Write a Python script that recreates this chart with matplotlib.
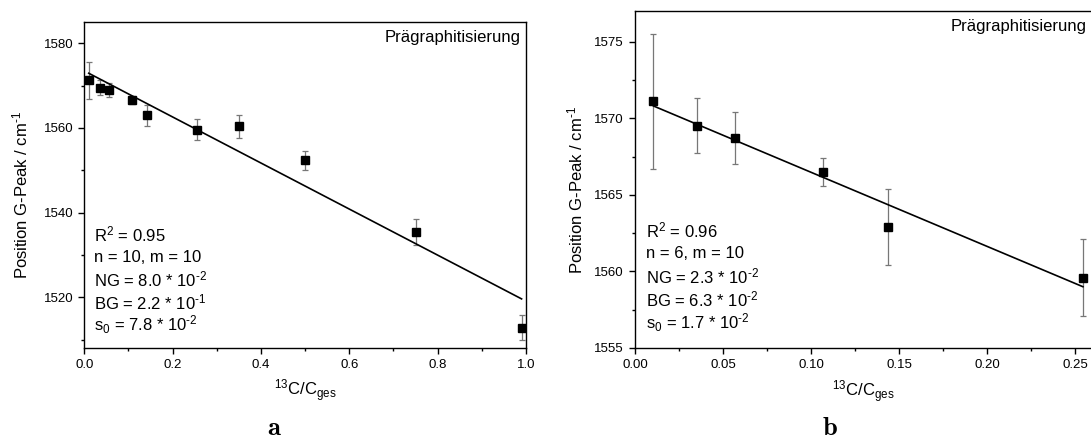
"""
G-peak position vs. 13C fraction (Prägraphitisierung), two panels a/b.
"""

import matplotlib
matplotlib.use("Agg")
import matplotlib.pyplot as plt
from matplotlib.ticker import MultipleLocator

plt.rcParams["font.family"] = ["Liberation Sans", "DejaVu Sans"]
plt.rcParams["mathtext.fontset"] = "custom"
plt.rcParams["mathtext.rm"] = "Liberation Sans"
plt.rcParams["mathtext.it"] = "Liberation Sans"
plt.rcParams["mathtext.bf"] = "Liberation Sans:bold"

# panel a: all samples
x_a = [0.01, 0.035, 0.057, 0.107, 0.143, 0.255, 0.35, 0.50, 0.75, 0.99]
y_a = [1571.2, 1569.5, 1568.9, 1566.6, 1563.0, 1559.6, 1560.4, 1552.3, 1535.4, 1512.8]
err_a = [4.4, 1.8, 1.7, 0.9, 2.5, 2.5, 2.7, 2.3, 3.0, 3.0]
fit_x_a = [0.01, 0.99]
fit_y_a = [1572.9, 1519.6]
stats_a = ["R$^2$ = 0.95", "n = 10, m = 10", r"NG = 8.0 * 10$^{\text{-}2}$",
           r"BG = 2.2 * 10$^{\text{-}1}$", r"s$_0$ = 7.8 * 10$^{\text{-}2}$"]

# panel b: low 13C range only
x_b = [0.0105, 0.035, 0.057, 0.107, 0.1435, 0.2545]
y_b = [1571.1, 1569.5, 1568.7, 1566.5, 1562.9, 1559.6]
err_b = [4.4, 1.8, 1.7, 0.9, 2.5, 2.5]
fit_x_b = [0.0105, 0.2545]
fit_y_b = [1570.8, 1559.0]
stats_b = ["R$^2$ = 0.96", "n = 6, m = 10", r"NG = 2.3 * 10$^{\text{-}2}$",
           r"BG = 6.3 * 10$^{\text{-}2}$", r"s$_0$ = 1.7 * 10$^{\text{-}2}$"]

TITLE = "Prägraphitisierung"
XLABEL = "$^{13}$C/C$_{ges}$"
YLABEL = r"Position G-Peak / cm$^{\text{-}1}$"

W, H = 1091, 441
fig = plt.figure(figsize=(W / 100, H / 100), dpi=100)


def px_axes(left, top, right, bottom):
    return fig.add_axes([left / W, 1 - bottom / H, (right - left) / W, (bottom - top) / H])


def draw_panel(ax, x, y, err, fx, fy, stats, xlim, ylim, xmaj, xmin, ymaj, ymin, fmt,
               stats_x, stats_y0, ylabel_x):
    ax.errorbar(x, y, yerr=err, fmt="none", ecolor="#777777", elinewidth=0.9,
                capsize=2.5, capthick=0.9, zorder=2)
    ax.plot(fx, fy, color="black", linewidth=1.2, zorder=3)
    ax.plot(x, y, "s", color="black", markersize=6, zorder=4)
    ax.set_xlim(*xlim)
    ax.set_ylim(*ylim)
    ax.xaxis.set_major_locator(MultipleLocator(xmaj))
    ax.xaxis.set_minor_locator(MultipleLocator(xmin))
    ax.yaxis.set_major_locator(MultipleLocator(ymaj))
    ax.yaxis.set_minor_locator(MultipleLocator(ymin))
    ax.xaxis.set_major_formatter(plt.FormatStrFormatter(fmt))
    ax.tick_params(which="both", direction="out", top=False, right=False,
                   labelsize=9.5, width=1.0)
    ax.tick_params(which="major", length=4.5)
    ax.tick_params(which="minor", length=2.5)
    for s in ax.spines.values():
        s.set_linewidth(1.0)
    ax.text(0.987, 0.975, TITLE, transform=ax.transAxes, ha="right", va="top", fontsize=12)
    for i, line in enumerate(stats):
        ax.text(stats_x, stats_y0 - i * 0.069, line, transform=ax.transAxes,
                ha="left", va="center", fontsize=12)
    ax.set_xlabel(XLABEL, fontsize=12)
    ax.set_ylabel(YLABEL, fontsize=12)
    ax.xaxis.set_label_coords(0.5, -0.09)
    ax.yaxis.set_label_coords(ylabel_x, 0.47)


ax_a = px_axes(84.3, 22, 526, 348)
draw_panel(ax_a, x_a, y_a, err_a, fit_x_a, fit_y_a, stats_a,
           (0, 1.0), (1508, 1585), 0.2, 0.1, 20, 10, "%.1f",
           0.022, 0.347, -0.122)

ax_b = px_axes(635, 11, 1092.6, 348)
draw_panel(ax_b, x_b, y_b, err_b, fit_x_b, fit_y_b, stats_b,
           (0, 0.26), (1555, 1577), 0.05, 0.025, 5, 2.5, "%.2f",
           0.025, 0.350, -0.108)

fig.text(274 / W, 1 - 428 / H, r"$\mathbf{a}$", math_fontfamily="cm",
         ha="center", va="center", fontsize=19)
fig.text(830 / W, 1 - 428 / H, r"$\mathbf{b}$", math_fontfamily="cm",
         ha="center", va="center", fontsize=19)

fig.savefig("out.png", dpi=100)
